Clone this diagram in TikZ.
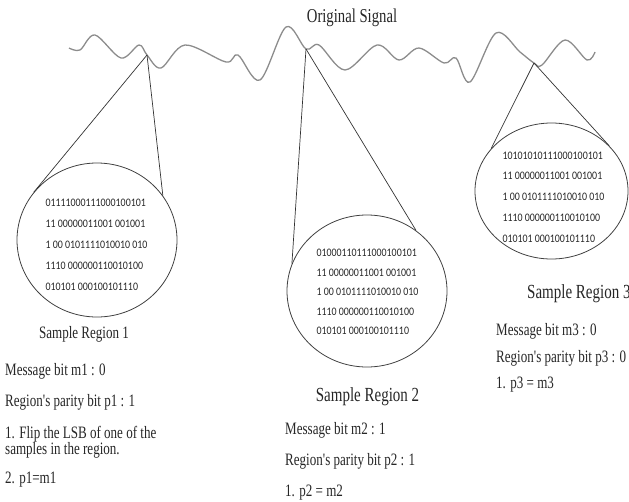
\documentclass[tikz,border=0pt]{standalone}
\usepackage{fontspec}
\usetikzlibrary{shapes.geometric}
\setmainfont{Liberation Serif}
\newfontfamily\sigfont[FakeStretch=0.75]{Liberation Serif}
\newfontfamily\binfont[FakeStretch=0.86]{Carlito}
\tikzset{
  wave/.style={draw=black!45, line width=1.3pt, smooth, tension=0.55},
  conn/.style={draw=black!80, line width=0.7pt},
  region/.style={ellipse, draw=black!75, line width=0.8pt, inner sep=0pt},
  bits/.style={align=left, inner sep=0pt, text=black!85, font=\binfont\fontsize{11.5}{#1}\selectfont},
  body/.style={anchor=base west, inner sep=0pt, text=black!85, font=\sigfont\fontsize{17.4}{18}\selectfont},
  title/.style={anchor=base, inner sep=0pt, text=black!85, font=\sigfont\fontsize{#1}{#1}\selectfont},
}
\begin{document}
\begin{tikzpicture}[x=1pt, y=-1pt]
\useasboundingbox (0,0) rectangle (629,501);
% signal
\node[title=19.6] (orig) at (352,22) {Original Signal};
\coordinate (s1) at (147,55);
\coordinate (s2) at (306,49);
\coordinate (s3) at (534,63);
\draw[wave] plot coordinates {(69,48) (80,50) (95,35) (121,58) (139,45) (147,55) (161,68) (185,45) (226,62) (238,55) (260,80) (286,27) (306,49) (319,45) (345,70) (377,45) (399,60) (419,48) (444,63) (456,58) (470,82) (496,33) (520,52) (534,63) (542,65) (565,40) (587,60) (595,52)};
% regions
\node[region, minimum width=160pt, minimum height=154pt] (c1) at (97,240) {};
\node[region, minimum width=160pt, minimum height=152pt] (c2) at (367,291) {};
\node[region, minimum width=153pt, minimum height=136pt] (c3) at (551.5,191) {};
\node[bits=21] (t1) at (96.5,245) {01111000111000100101\\11 00000011001 001001\\1 00 0101111010010 010\\1110 000000110010100\\010101 000100101110};
\node[bits=19.5] (t2) at (367.5,292) {01000110111000100101\\11 00000011001 001001\\1 00 0101111010010 010\\1110 000000110010100\\010101 000100101110};
\node[bits=20.7] (t3) at (553.5,197) {10101010111000100101\\11 00000011001 001001\\1 00 0101111010010 010\\1110 000000110010100\\010101 000100101110};
% connectors
\draw[conn] (s1) -- (c1.143);
\draw[conn] (s1) -- (c1.34);
\draw[conn] (s2) -- (c2.160);
\draw[conn] (s2) -- (c2.51);
\draw[conn] (s3) -- (c3.145);
\draw[conn] (s3) -- (c3.38);
% texts region 1
\node[title=17.4] (r1) at (84,338) {Sample Region 1};
\node[body] (m1) at (5,375) {Message bit m1 : 0};
\node[body] (p1) at (5,406) {Region's parity bit p1 : 1};
\node[body] (f1) at (5,438) {1. Flip the LSB of one of the};
\node[body] (f1b) at (5,454) {samples in the region.};
\node[body] (e1) at (5,483) {2. p1=m1};
% texts region 2
\node[title=20] (r2) at (367.5,401) {Sample Region 2};
\node[body] (m2) at (285,434) {Message bit m2 : 1};
\node[body] (p2) at (285,465) {Region's parity bit p2 : 1};
\node[body] (e2) at (285,496) {1. p2 = m2};
% texts region 3
\node[title=20, anchor=base west] (r3) at (527,298) {Sample Region 3};
\node[body] (m3) at (496,335) {Message bit m3 : 0};
\node[body] (p3) at (496,362) {Region's parity bit p3 : 0};
\node[body] (e3) at (496,388) {1. p3 = m3};
\end{tikzpicture}
\end{document}
